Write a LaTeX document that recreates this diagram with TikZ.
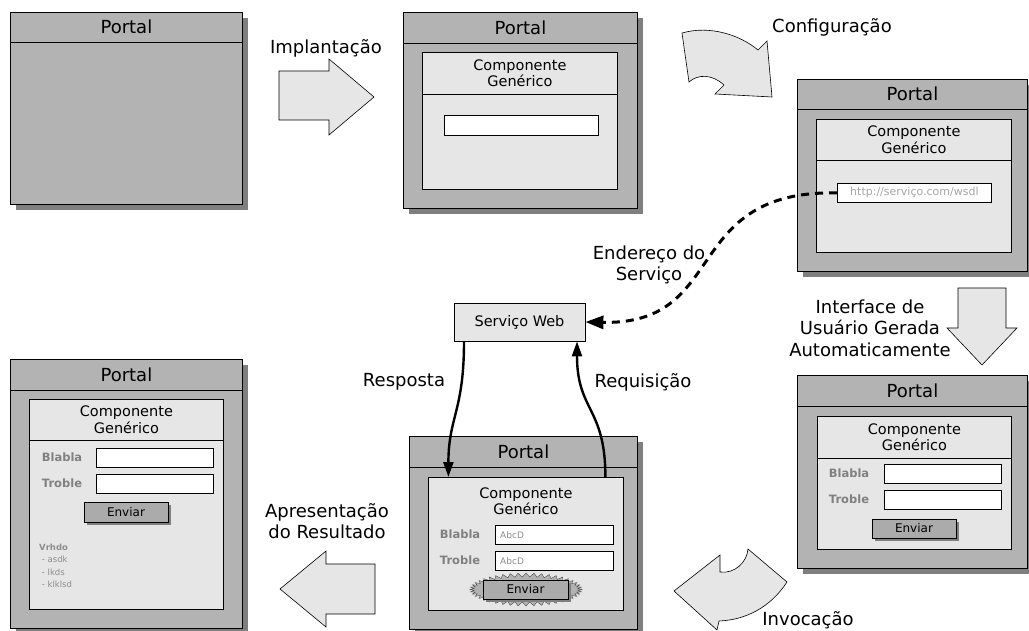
\documentclass[tikz,border=0pt]{standalone}
\usepackage{fontspec}
\setmainfont{DejaVu Sans}
\usetikzlibrary{shadows,shapes.symbols,arrows.meta}

\definecolor{cinza}{HTML}{B3B3B3}
\definecolor{claro}{HTML}{E6E6E6}
\definecolor{sombra}{HTML}{7F7F7F}

\begin{document}
\begin{tikzpicture}[x=1pt,y=-1pt]
    \tikzstyle{portal} = [draw, line width=0.8pt, fill=cinza, inner sep=0pt, anchor=north west,
        drop shadow={shadow xshift=6pt, shadow yshift=-6pt, fill=sombra, opacity=1}]
    \tikzstyle{titulo} = [inner sep=0pt, font=\fontsize{18}{21}\selectfont]
    \tikzstyle{comp} = [draw, line width=0.8pt, fill=claro, inner sep=0pt, anchor=north west]
    \tikzstyle{nomecomp} = [inner sep=0pt, align=center, font=\fontsize{14.5}{16.5}\selectfont]
    \tikzstyle{campo} = [draw, line width=0.8pt, fill=white, inner sep=0pt, anchor=north west, minimum height=19pt]
    \tikzstyle{borrado} = [inner sep=0pt, text=black!50, font=\bfseries\fontsize{11.5}{13}\selectfont]
    \tikzstyle{dica} = [inner sep=0pt, anchor=west, text=black!45, font=\fontsize{9}{10}\selectfont]
    \tikzstyle{botao} = [draw, line width=0.8pt, fill=black!33, minimum width=84pt, minimum height=19pt,
        inner sep=0pt, font=\fontsize{12}{14}\selectfont,
        drop shadow={shadow xshift=3pt, shadow yshift=-3pt, fill=sombra, opacity=1}]
    \tikzstyle{seta} = [draw, line width=0.6pt, fill=claro]
    \tikzstyle{rotulo} = [inner sep=0pt, align=center, font=\fontsize{18}{21.5}\selectfont]
    \tikzstyle{fluxo} = [line width=2.4pt, -{Triangle[length=15pt,width=10pt]}]

    \useasboundingbox (0,0) rectangle (1029,631);

    % portais
    \node[portal, minimum width=232pt, minimum height=192pt] (port1) at (10,12) {};
    \node[portal, minimum width=234pt, minimum height=196pt] (port2) at (403,12) {};
    \node[portal, minimum width=230pt, minimum height=192pt] (port3) at (797,79) {};
    \node[portal, minimum width=230pt, minimum height=193pt] (port4) at (797,375) {};
    \node[portal, minimum width=228pt, minimum height=193pt] (port5) at (409,436) {};
    \node[portal, minimum width=232pt, minimum height=269pt] (port6) at (10,359) {};

    \node[titulo] (tit1) at ([yshift=-15pt]port1.north) {Portal};
    \node[titulo] (tit2) at ([yshift=-15.5pt]port2.north) {Portal};
    \node[titulo] (tit3) at ([yshift=-15pt]port3.north) {Portal};
    \node[titulo] (tit4) at ([yshift=-15.5pt]port4.north) {Portal};
    \node[titulo] (tit5) at ([yshift=-15.5pt]port5.north) {Portal};
    \node[titulo] (tit6) at ([yshift=-15.5pt]port6.north) {Portal};
    \draw[line width=0.8pt] ([yshift=-30pt]port1.north west) -- ([yshift=-30pt]port1.north east);
    \draw[line width=0.8pt] ([yshift=-31pt]port2.north west) -- ([yshift=-31pt]port2.north east);
    \draw[line width=0.8pt] ([yshift=-30pt]port3.north west) -- ([yshift=-30pt]port3.north east);
    \draw[line width=0.8pt] ([yshift=-31pt]port4.north west) -- ([yshift=-31pt]port4.north east);
    \draw[line width=0.8pt] ([yshift=-31pt]port5.north west) -- ([yshift=-31pt]port5.north east);
    \draw[line width=0.8pt] ([yshift=-31pt]port6.north west) -- ([yshift=-31pt]port6.north east);

    % componentes
    \node[comp, minimum width=195pt, minimum height=137pt] (comp2) at (422,52) {};
    \node[comp, minimum width=195pt, minimum height=133pt] (comp3) at (816,119) {};
    \node[comp, minimum width=194pt, minimum height=133pt] (comp4) at (817,416) {};
    \node[comp, minimum width=195pt, minimum height=133pt] (comp5) at (428,477) {};
    \node[comp, minimum width=194pt, minimum height=210pt] (comp6) at (29,399) {};

    \node[nomecomp] (nome2) at ([yshift=-21pt]comp2.north) {Componente\\Genérico};
    \node[nomecomp] (nome3) at ([yshift=-20.5pt]comp3.north) {Componente\\Genérico};
    \node[nomecomp] (nome4) at ([yshift=-21pt]comp4.north) {Componente\\Genérico};
    \node[nomecomp] (nome5) at ([yshift=-24pt]comp5.north) {Componente\\Genérico};
    \node[nomecomp] (nome6) at ([yshift=-20.5pt]comp6.north) {Componente\\Genérico};
    \draw[line width=0.8pt] ([yshift=-42pt]comp2.north west) -- ([yshift=-42pt]comp2.north east);
    \draw[line width=0.8pt] ([yshift=-41pt]comp3.north west) -- ([yshift=-41pt]comp3.north east);
    \draw[line width=0.8pt] ([yshift=-42pt]comp4.north west) -- ([yshift=-42pt]comp4.north east);
    \draw[line width=0.8pt] ([yshift=-41pt]comp6.north west) -- ([yshift=-41pt]comp6.north east);

    % campos do formulario
    \node[campo, minimum width=154pt, minimum height=20pt] (campo2) at (444,115) {};
    \node[campo, minimum width=154pt, text=black!35, font=\fontsize{11}{12}\selectfont] (url3) at (837,183) {http://serviço.com/wsdl};

    \node[campo, minimum width=117pt] (campo4a) at (884,464) {};
    \node[campo, minimum width=117pt] (campo4b) at (884,490) {};
    \node[borrado] (rot4a) at (849,473.5) {Blabla};
    \node[borrado] (rot4b) at (849,499.5) {Troble};
    \node[botao] (env4) at (914,528.5) {Enviar};

    \node[campo, minimum width=118pt] (campo5a) at (495,525) {};
    \node[campo, minimum width=118pt] (campo5b) at (495,551) {};
    \node[dica] (dica5a) at ([xshift=5pt]campo5a.west) {AbcD};
    \node[dica] (dica5b) at ([xshift=5pt]campo5b.west) {AbcD};
    \node[borrado] (rot5a) at (460,534.5) {Blabla};
    \node[borrado] (rot5b) at (460,560.5) {Troble};
    \node[starburst, starburst points=44, starburst point height=4pt, random starburst=0,
        minimum width=112pt, minimum height=33pt, fill=black!30, draw=black!70, line width=0.4pt] (brilho5) at (526,589.5) {};
    \node[botao, minimum width=85pt] (env5) at (525.5,589.5) {Enviar};

    \node[campo, minimum width=117pt] (campo6a) at (96,448) {};
    \node[campo, minimum width=117pt] (campo6b) at (96,474) {};
    \node[borrado] (rot6a) at (62,457.5) {Blabla};
    \node[borrado] (rot6b) at (62,483.5) {Troble};
    \node[botao, minimum height=20pt] (env6) at (126,512) {Enviar};
    \node[inner sep=0pt, anchor=north west, align=left, text=black!45, font=\fontsize{8.5}{12.3}\selectfont] (lista6) at (39,544)
        {\textbf{Vrhdo}\\ \ - asdk\\ \ - lkds\\ \ - klklsd};

    % servico web
    \node[draw, line width=0.8pt, fill=claro, minimum width=131pt, minimum height=38pt, inner sep=0pt,
        font=\fontsize{14.5}{16}\selectfont] (servico) at (519.5,322) {Serviço Web};

    % setas de bloco
    \draw[seta] (279,71) -- (329,71) -- (329,59) -- (374,97) -- (329,135) -- (329,120) -- (279,120) -- cycle;
    \draw[seta] (682,33) .. controls (710,25) and (740,35) .. (758,50) -- (767,41) -- (772,97) -- (715,94)
        -- (724,85) .. controls (712,74) and (698,74) .. (689,82) -- cycle;
    \draw[seta] (958,288) -- (1006,288) -- (1006,328) -- (1017,328) -- (982,365) -- (947,328) -- (958,328) -- cycle;
    \draw[seta] (748,549) -- (787,582) .. controls (770,608) and (745,620) .. (719,621) -- (717,630) -- (674,591)
        -- (720,555) -- (720,572) .. controls (735,574) and (747,562) .. (748,549) -- cycle;
    \draw[seta] (375,564) -- (326,564) -- (326,551) -- (280,589) -- (326,627) -- (326,614) -- (375,614) -- cycle;

    % rotulos
    \node[rotulo] (implant) at (326,48) {Implantação};
    \node[rotulo] (config) at (832,27) {Configuração};
    \node[rotulo] (ender) at (649,265) {Endereço do\\Serviço};
    \node[rotulo] (interf) at (870,328) {Interface de\\Usuário Gerada\\Automaticamente};
    \node[rotulo] (resp) at (404,382) {Resposta};
    \node[rotulo] (req) at (643,382) {Requisição};
    \node[rotulo] (apres) at (327,521) {Apresentação\\do Resultado};
    \node[rotulo] (invoc) at (808,620) {Invocação};

    % ligacoes
    \draw[line width=3pt, dash pattern=on 8pt off 6pt, -{Triangle[length=18pt,width=13pt]}]
        (url3.west) .. controls (680,190) and (730,325) .. (servico.east);
    \draw[fluxo] ([xshift=-55.5pt]servico.south) .. controls +(0,70) and +(0,-60) .. ([xshift=-77.5pt]comp5.north);
    \draw[fluxo] ([xshift=79.5pt]comp5.north) .. controls +(0,-70) and +(0,70) .. ([xshift=57.5pt]servico.south);
\end{tikzpicture}
\end{document}
